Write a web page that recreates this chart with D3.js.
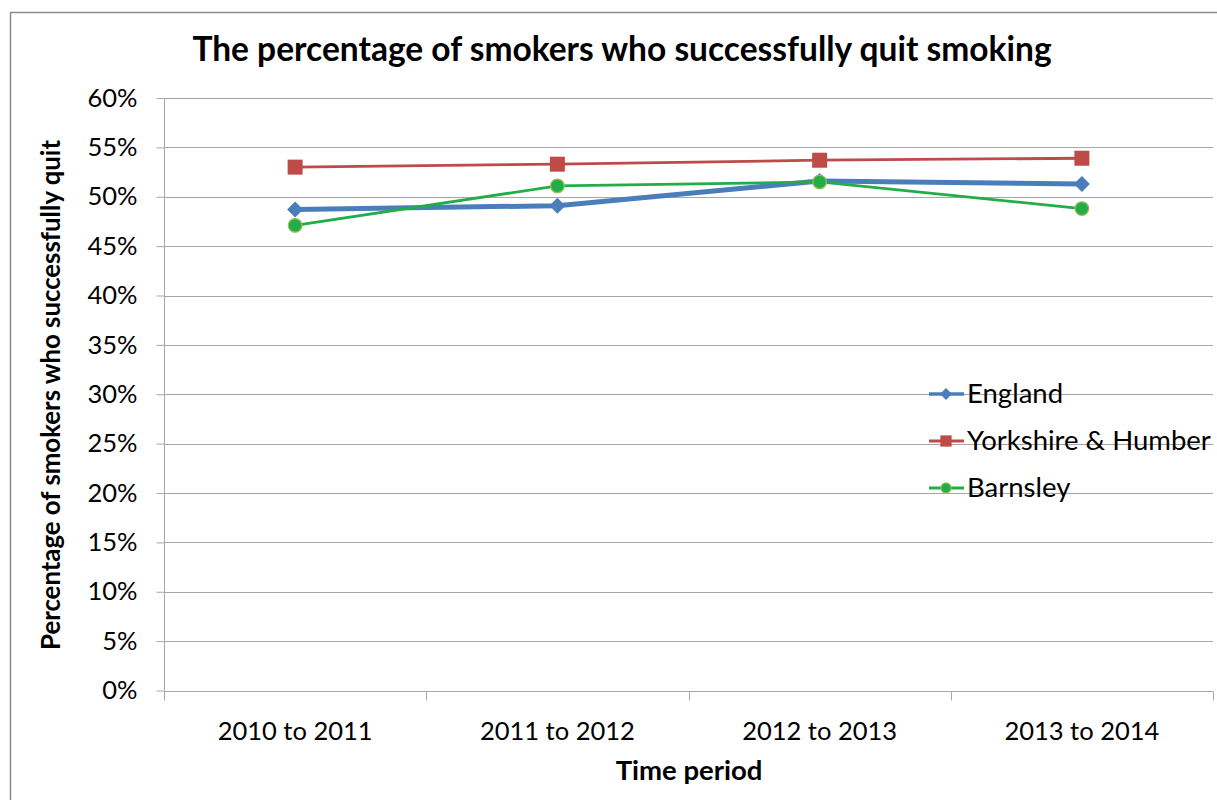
<!DOCTYPE html>
<html>
<head>
<meta charset="utf-8">
<script src="https://cdn.jsdelivr.net/npm/d3@7"></script>
<style>
  html, body { margin: 0; padding: 0; background: #fff; }
  svg { display: block; }
  text { font-family: Lato, "Open Sans", "Noto Sans", sans-serif; fill: #000; }
</style>
</head>
<body>
<script>
// Time periods along the x axis
const periods = ["2010 to 2011", "2011 to 2012", "2012 to 2013", "2013 to 2014"];
// Percentage of smokers who successfully quit, per area
const england   = [48.7, 49.1, 51.6, 51.3];
const yorkshire = [53.0, 53.3, 53.7, 53.9];
const barnsley  = [47.1, 51.1, 51.5, 48.8];
// Y axis ticks (percent)
const yTicks = [0, 5, 10, 15, 20, 25, 30, 35, 40, 45, 50, 55, 60];

const seriesNames = ["England", "Yorkshire & Humber", "Barnsley"];
const series = [
  { name: seriesNames[0], values: england,   color: "#4a7ebb", width: 5,   marker: "diamond" },
  { name: seriesNames[1], values: yorkshire, color: "#be4b48", width: 2.8, marker: "square" },
  { name: seriesNames[2], values: barnsley,  color: "#22ad47", width: 2.8, marker: "circle" }
];

const W = 1217, H = 800;
const plot = { left: 164, right: 1213, top: 98, bottom: 690.5 };

// Font sizes tuned so the label widths suit the layout
const fs = { tick: 25.5, title: 33.5, axisTitle: 27.5, yTitle: 25.8, legend: 27.5 };

const svg = d3.select("body").append("svg").attr("width", W).attr("height", H);

// chart frame
svg.append("rect")
  .attr("x", 10.5).attr("y", 12.5).attr("width", 1230).attr("height", 820)
  .attr("fill", "#fff").attr("stroke", "#8c8c8c").attr("stroke-width", 1.5);

const x = d3.scaleBand().domain(periods).range([plot.left, plot.right]);
const y = d3.scaleLinear().domain([0, 60]).range([plot.bottom, plot.top]);
const cx = d => x(d) + x.bandwidth() / 2;

// horizontal gridlines
svg.append("g").selectAll("line").data(yTicks.filter(t => t > 0)).join("line")
  .attr("x1", plot.left).attr("x2", plot.right)
  .attr("y1", d => Math.round(y(d)) + 0.5).attr("y2", d => Math.round(y(d)) + 0.5)
  .attr("stroke", "#a6a6a6").attr("stroke-width", 1);

// y axis
const yAxis = d3.axisLeft(y).tickValues(yTicks).tickFormat(d => d + "%").tickSize(8).tickPadding(19);
const gy = svg.append("g").attr("transform", `translate(${plot.left + 0.5},0)`).call(yAxis);
gy.selectAll("line").attr("stroke", "#a6a6a6");
gy.select(".domain").attr("stroke", "#a6a6a6").attr("d", `M0,${plot.top}V${plot.bottom}`);
gy.selectAll("text").attr("font-size", fs.tick).attr("fill", "#000")
  .style("font-family", "Lato, 'Open Sans', sans-serif");

// x axis with tick marks on band boundaries
const gx = svg.append("g").attr("transform", `translate(0,${Math.round(plot.bottom) + 0.5})`);
gx.append("line").attr("x1", plot.left).attr("x2", plot.right).attr("stroke", "#a6a6a6");
const bounds = periods.map(p => x(p)).concat([plot.right]);
gx.selectAll("line.tick").data(bounds).join("line").attr("class", "tick")
  .attr("x1", d => Math.round(d) + 0.5).attr("x2", d => Math.round(d) + 0.5)
  .attr("y1", 0).attr("y2", 9).attr("stroke", "#a6a6a6");
gx.selectAll("text").data(periods).join("text")
  .attr("x", d => cx(d)).attr("y", 48)
  .attr("text-anchor", "middle").attr("font-size", fs.tick).text(d => d);

// lines
const line = d3.line().x((d, i) => cx(periods[i])).y(d => y(d));
series.forEach(s => {
  svg.append("path").datum(s.values)
    .attr("d", line).attr("fill", "none")
    .attr("stroke", s.color).attr("stroke-width", s.width).attr("stroke-linejoin", "round");
});

function drawMarker(g, type, px, py, color, scale) {
  if (type === "diamond") {
    const r = 8 * scale;
    g.append("path").attr("d", `M${px},${py - r}L${px + r},${py}L${px},${py + r}L${px - r},${py}Z`)
      .attr("fill", color);
  } else if (type === "square") {
    const r = 7.5 * scale;
    g.append("rect").attr("x", px - r).attr("y", py - r).attr("width", 2 * r).attr("height", 2 * r)
      .attr("fill", color);
  } else {
    g.append("circle").attr("cx", px).attr("cy", py).attr("r", 6.8 * scale)
      .attr("fill", color).attr("stroke", "#9bbb59").attr("stroke-width", 1.3);
  }
}

// markers
series.forEach(s => {
  const g = svg.append("g");
  s.values.forEach((v, i) => drawMarker(g, s.marker, cx(periods[i]), y(v), s.color, 1));
});

// legend
const legend = svg.append("g");
series.forEach((s, i) => {
  const ly = 394 + i * 47;
  legend.append("line").attr("x1", 929).attr("x2", 964).attr("y1", ly).attr("y2", ly)
    .attr("stroke", s.color).attr("stroke-width", s.width > 4 ? 3.5 : 2.8);
  drawMarker(legend, s.marker, 946, ly, s.color, 0.75);
  legend.append("text").attr("x", 967).attr("y", ly + 9).attr("font-size", fs.legend).text(s.name);
});

// title
svg.append("text").attr("x", 622).attr("y", 61).attr("text-anchor", "middle")
  .attr("font-size", fs.title).attr("font-weight", "bold")
  .text("The percentage of smokers who successfully quit smoking");

// axis titles
svg.append("text").attr("x", 689).attr("y", 780).attr("text-anchor", "middle")
  .attr("font-size", fs.axisTitle).attr("font-weight", "bold").text("Time period");
svg.append("text").attr("transform", "translate(60,395) rotate(-90)").attr("text-anchor", "middle")
  .attr("font-size", fs.yTitle).attr("font-weight", "bold").text("Percentage of smokers who successfully quit");
</script>
</body>
</html>
